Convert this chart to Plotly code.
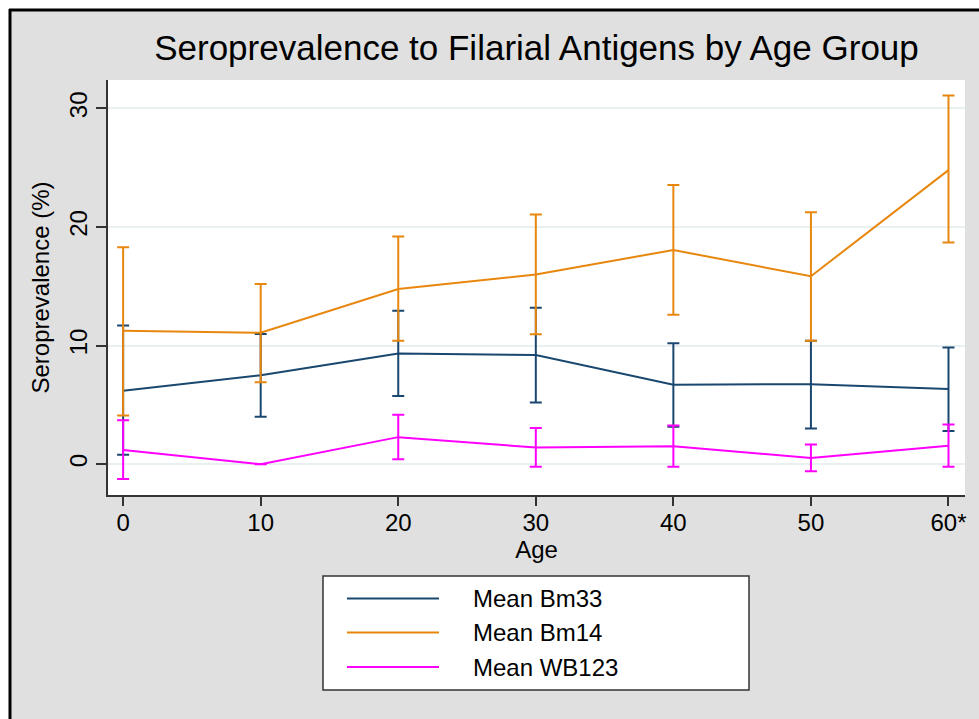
import plotly.graph_objects as go

ages = [0, 10, 20, 30, 40, 50, 60]
age_labels = ["0", "10", "20", "30", "40", "50", "60*"]

bm33_mean = [6.2, 7.5, 9.34, 9.2, 6.7, 6.75, 6.33]
bm33_upper = [11.7, 10.97, 12.94, 13.2, 10.2, 10.4, 9.85]
bm33_lower = [0.8, 4.0, 5.74, 5.2, 3.15, 3.0, 2.8]

bm14_mean = [11.25, 11.08, 14.77, 16.0, 18.06, 15.85, 24.8]
bm14_upper = [18.3, 15.2, 19.2, 21.05, 23.54, 21.25, 31.1]
bm14_lower = [4.1, 6.9, 10.4, 10.95, 12.6, 10.4, 18.7]

wb123_mean = [1.2, 0.0, 2.28, 1.4, 1.52, 0.53, 1.55]
wb123_upper = [3.7, 0.0, 4.16, 3.05, 3.27, 1.66, 3.35]
wb123_lower = [-1.25, 0.0, 0.42, -0.22, -0.22, -0.6, -0.22]

series = [
    ("Mean Bm33", bm33_mean, bm33_upper, bm33_lower, "#1a476f"),
    ("Mean Bm14", bm14_mean, bm14_upper, bm14_lower, "#e8870e"),
    ("Mean WB123", wb123_mean, wb123_upper, wb123_lower, "#ff00ff"),
]

FONT = "Liberation Sans, Arial, Helvetica, sans-serif"
W, H = 979, 719
L, R, T, B = 108, 965, 80, 495


def px(xp):
    return (xp - L) / (R - L)


def py(yp):
    return (B - yp) / (B - T)


fig = go.Figure()
for name, m, up, lo, col in series:
    fig.add_trace(go.Scatter(
        x=ages, y=m, mode="lines", name=name,
        line=dict(color=col, width=2),
        error_y=dict(type="data", symmetric=False,
                     array=[u - v for u, v in zip(up, m)],
                     arrayminus=[v - d for v, d in zip(m, lo)],
                     color=col, thickness=2, width=6),
        showlegend=False,
    ))

shapes = [
    # white page strip above / left of the graph region
    dict(type="rect", xref="paper", yref="paper", layer="below",
         x0=px(-20), x1=px(1000), y0=py(-20), y1=py(9),
         fillcolor="#ffffff", line=dict(width=0)),
    dict(type="rect", xref="paper", yref="paper", layer="below",
         x0=px(-20), x1=px(9), y0=py(-20), y1=py(740),
         fillcolor="#ffffff", line=dict(width=0)),
    # black border of the graph region
    dict(type="line", xref="paper", yref="paper", layer="below",
         x0=px(9), x1=px(1000), y0=py(10), y1=py(10),
         line=dict(color="#000000", width=3)),
    dict(type="line", xref="paper", yref="paper", layer="below",
         x0=px(10), x1=px(10), y0=py(9), y1=py(740),
         line=dict(color="#000000", width=3)),
    # legend box
    dict(type="rect", xref="paper", yref="paper", layer="below",
         x0=px(323), x1=px(749), y0=py(576), y1=py(690),
         fillcolor="#ffffff", line=dict(color="#333333", width=1.5)),
]
annotations = []
legend_y = [598.5, 632.5, 667]
for (name, m, up, lo, col), ly in zip(series, legend_y):
    shapes.append(dict(type="line", xref="paper", yref="paper",
                       x0=px(347), x1=px(439), y0=py(ly), y1=py(ly),
                       line=dict(color=col, width=2)))
    annotations.append(dict(xref="paper", yref="paper", x=px(471), y=py(ly),
                            xanchor="left", yanchor="middle", showarrow=False,
                            text=name, font=dict(family=FONT, size=24, color="#000000")))

fig.update_layout(
    width=W, height=H,
    margin=dict(l=L, r=W - R, t=T, b=H - B, pad=0),
    paper_bgcolor="#e0e0e0",
    plot_bgcolor="#ffffff",
    font=dict(family=FONT, color="#000000"),
    title=dict(text="Seroprevalence to Filarial Antigens by Age Group",
               x=0.5, xref="paper", xanchor="center",
               y=1 - 48 / H, yref="container", yanchor="middle",
               font=dict(family=FONT, size=35, color="#000000")),
    shapes=shapes,
    annotations=annotations,
    showlegend=False,
)
fig.update_xaxes(
    range=[-1.1, 61.2], tickvals=ages, ticktext=age_labels,
    showgrid=False, zeroline=False,
    showline=True, linecolor="#333333", linewidth=1.5,
    ticks="outside", ticklen=9, tickwidth=1.5, tickcolor="#333333",
    ticklabelstandoff=-4,
    tickfont=dict(family=FONT, size=24, color="#000000"),
    title=dict(text="Age", font=dict(family=FONT, size=24, color="#000000"), standoff=0),
    automargin=False,
)
fig.update_yaxes(
    range=[-2.6, 32.4], tickvals=[0, 10, 20, 30],
    showgrid=True, gridcolor="#e8f0f2", gridwidth=2, zeroline=False,
    showline=True, linecolor="#333333", linewidth=1.5,
    ticks="outside", ticklen=10, tickwidth=1.5, tickcolor="#333333",
    tickangle=-90,
    tickfont=dict(family=FONT, size=24, color="#000000"),
    title=dict(text="Seroprevalence (%)", font=dict(family=FONT, size=24, color="#000000"), standoff=8),
    automargin=False,
)

fig.write_html("out.html")
